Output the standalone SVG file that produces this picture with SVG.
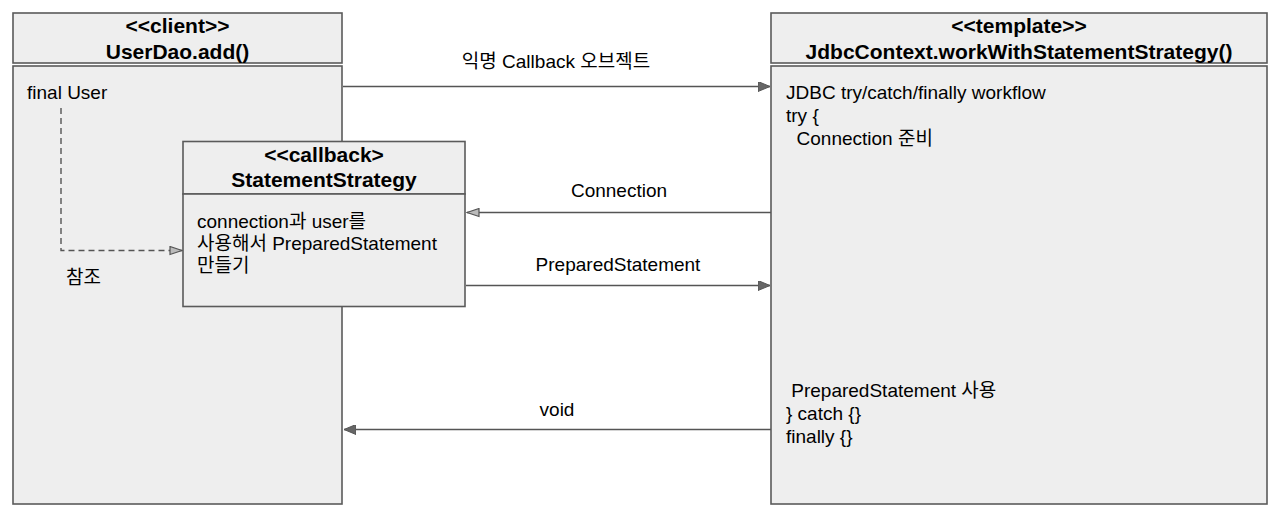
<svg xmlns="http://www.w3.org/2000/svg" width="1280" height="524" viewBox="0 0 1280 524">
<style>
.box{fill:#eeeeee;stroke:#5a5a5a;stroke-width:1.6}
.hd{font-family:"Liberation Sans","Noto Sans CJK KR",Arial,sans-serif;font-size:21px;font-weight:bold;fill:#000;text-anchor:middle}
.tx{font-family:"Liberation Sans","Noto Sans CJK KR",Arial,sans-serif;font-size:19px;fill:#000;white-space:pre}
.lb{font-family:"Liberation Sans","Noto Sans CJK KR",Arial,sans-serif;font-size:19px;fill:#000;text-anchor:middle}
.ln{fill:none;stroke:#555;stroke-width:1.6}
.dash{fill:none;stroke:#555;stroke-width:1.4;stroke-dasharray:6,4}
</style>
<defs>
<marker id="arr" viewBox="0 0 12 10" refX="12" refY="5" markerWidth="12" markerHeight="10" markerUnits="userSpaceOnUse" orient="auto">
<path d="M0,0 L12,5 L0,10 Z" fill="#666" stroke="#555" stroke-width="1"/>
</marker>
<marker id="arrh" viewBox="0 0 14 10" refX="13" refY="5" markerWidth="14" markerHeight="10" markerUnits="userSpaceOnUse" orient="auto">
<path d="M1,1 L13,5 L1,9 Z" fill="#bbb" stroke="#555" stroke-width="1.2"/>
</marker>
</defs>
<rect width="1280" height="524" fill="#ffffff"/>

<g id="client">
<rect class="box" x="13" y="13" width="329" height="50"/>
<rect class="box" x="13" y="66" width="329" height="438"/>
<text class="hd" x="177.5" y="33">&lt;&lt;client&gt;&gt;</text>
<text class="hd" x="177.5" y="59">UserDao.add()</text>
<text class="tx" x="27" y="99">final User</text>
<text class="tx" x="66" y="284">참조</text>
</g>

<g id="template">
<rect class="box" x="771" y="13" width="496" height="50"/>
<rect class="box" x="771" y="66" width="496" height="438"/>
<text class="hd" x="1019" y="33">&lt;&lt;template&gt;&gt;</text>
<text class="hd" x="1019" y="59">JdbcContext.workWithStatementStrategy()</text>
<text class="tx" x="786" y="99">JDBC try/catch/finally workflow</text>
<text class="tx" x="786" y="122">try {</text>
<text class="tx" x="786" y="145">  Connection 준비</text>
<text class="tx" x="786" y="397"> PreparedStatement 사용</text>
<text class="tx" x="786" y="420">} catch {}</text>
<text class="tx" x="786" y="443">finally {}</text>
</g>

<g id="callback">
<rect class="box" x="183" y="141.5" width="282" height="52.5"/>
<rect class="box" x="183" y="194" width="282" height="112.5"/>
<text class="hd" x="324" y="162">&lt;&lt;callback&gt;</text>
<text class="hd" x="324" y="187">StatementStrategy</text>
<text class="tx" x="197" y="228">connection과 user를</text>
<text class="tx" x="197" y="250">사용해서 PreparedStatement</text>
<text class="tx" x="197" y="272">만들기</text>
</g>

<g id="connectors">
<line class="ln" x1="343" y1="86.5" x2="770" y2="86.5" marker-end="url(#arr)"/>
<text class="lb" x="556" y="68">익명 Callback 오브젝트</text>
<line class="ln" x1="771" y1="212.5" x2="467" y2="212.5" marker-end="url(#arrh)"/>
<text class="lb" x="619" y="197">Connection</text>
<line class="ln" x1="466" y1="285.5" x2="770" y2="285.5" marker-end="url(#arr)"/>
<text class="lb" x="618" y="271">PreparedStatement</text>
<line class="ln" x1="771" y1="429.5" x2="344" y2="429.5" marker-end="url(#arr)"/>
<text class="lb" x="557" y="416">void</text>
<polyline class="dash" points="61,108 61,250.5 182,250.5" marker-end="url(#arrh)"/>
</g>
</svg>
